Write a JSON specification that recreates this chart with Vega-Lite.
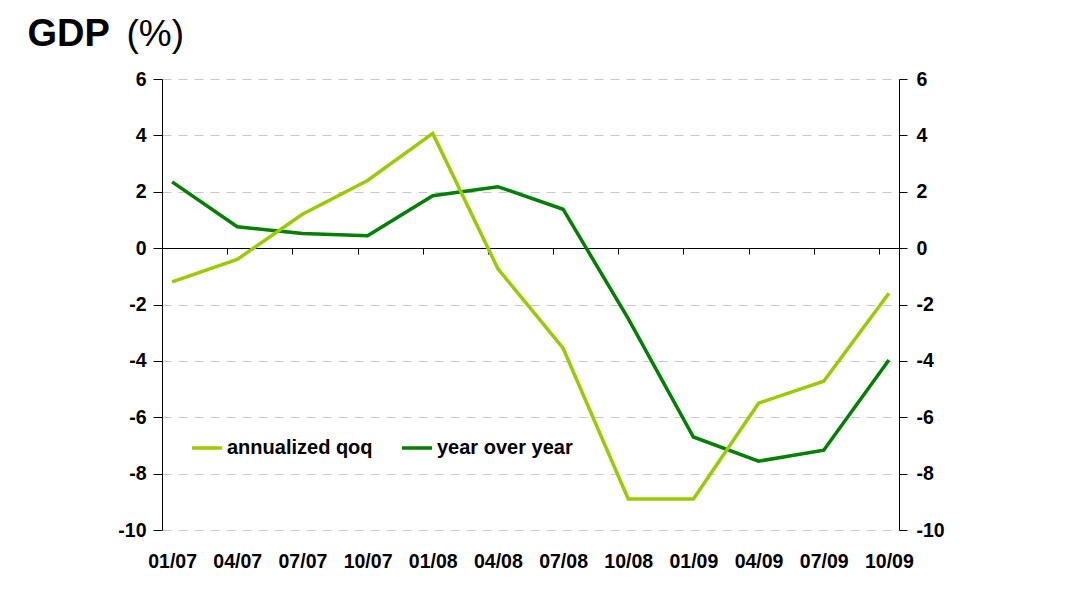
{
  "$schema": "https://vega.github.io/schema/vega-lite/v6.json",
  "width": 737,
  "height": 451,
  "autosize": "none",
  "padding": {"left": 162, "top": 79, "right": 175, "bottom": 67},
  "background": "white",
  "config": {"view": {"stroke": null}, "font": "Liberation Sans"},
  "data": {"values": [
    {"date": "01/07", "series": "year over year", "value": 2.35},
    {"date": "04/07", "series": "year over year", "value": 0.76},
    {"date": "07/07", "series": "year over year", "value": 0.52},
    {"date": "10/07", "series": "year over year", "value": 0.44},
    {"date": "01/08", "series": "year over year", "value": 1.86},
    {"date": "04/08", "series": "year over year", "value": 2.18},
    {"date": "07/08", "series": "year over year", "value": 1.38},
    {"date": "10/08", "series": "year over year", "value": -2.5},
    {"date": "01/09", "series": "year over year", "value": -6.7},
    {"date": "04/09", "series": "year over year", "value": -7.56},
    {"date": "07/09", "series": "year over year", "value": -7.17},
    {"date": "10/09", "series": "year over year", "value": -3.97},
    {"date": "01/07", "series": "annualized qoq", "value": -1.2},
    {"date": "04/07", "series": "annualized qoq", "value": -0.4},
    {"date": "07/07", "series": "annualized qoq", "value": 1.2},
    {"date": "10/07", "series": "annualized qoq", "value": 2.4},
    {"date": "01/08", "series": "annualized qoq", "value": 4.07},
    {"date": "04/08", "series": "annualized qoq", "value": -0.73},
    {"date": "07/08", "series": "annualized qoq", "value": -3.55},
    {"date": "10/08", "series": "annualized qoq", "value": -8.9},
    {"date": "01/09", "series": "annualized qoq", "value": -8.9},
    {"date": "04/09", "series": "annualized qoq", "value": -5.5},
    {"date": "07/09", "series": "annualized qoq", "value": -4.72},
    {"date": "10/09", "series": "annualized qoq", "value": -1.6}
  ]},
  "layer": [
    {
      "mark": {"type": "line", "strokeWidth": 3.5},
      "encoding": {
        "x": {"field": "date", "type": "ordinal", "sort": null,
          "scale": {"type": "point", "padding": 0.155},
          "axis": {"title": null, "orient": "bottom", "offset": -282, "domainColor": "black", "tickColor": "black", "tickSize": 6, "tickOffset": -10, "labelOffset": 10, "labelPadding": 307, "labelBaseline": "middle", "labelAngle": 0, "labelFont": "Liberation Sans", "labelFontSize": 19.5, "labelFontWeight": "bold", "labelColor": "black", "grid": false}},
        "y": {"field": "value", "type": "quantitative",
          "scale": {"domain": [-10, 6], "nice": false, "zero": false},
          "axis": {"orient": "left", "values": [-10, -8, -6, -4, -2, 0, 2, 4, 6], "labelExpr": "'' + datum.value", "title": "GDP", "titleAngle": 0, "titleX": -135, "titleY": -34, "titleAlign": "left", "titleBaseline": "alphabetic", "titleFont": "Liberation Sans", "titleFontSize": 38, "titleFontWeight": "bold", "titleColor": "black", "domainColor": "black", "tickColor": "black", "tickSize": 9, "labelPadding": 7, "labelFont": "Liberation Sans", "labelFontSize": 19.5, "labelFontWeight": "bold", "labelColor": "black", "grid": true, "gridColor": "#c8c8c8", "gridDash": [9, 7]}},
        "color": {"field": "series", "type": "nominal",
          "scale": {"domain": ["annualized qoq", "year over year"], "range": ["#99cc00", "#008000"]},
          "legend": {"orient": "none", "legendX": 28, "legendY": 352, "direction": "horizontal", "title": null, "symbolType": "stroke", "symbolStrokeWidth": 3.5, "symbolSize": 900, "labelFont": "Liberation Sans", "labelFontSize": 20, "labelFontWeight": "bold", "labelColor": "black", "columnPadding": 22, "labelOffset": 3}}
      }
    },
    {
      "mark": {"type": "point", "opacity": 0},
      "encoding": {
        "y": {"field": "value", "type": "quantitative",
          "scale": {"domain": [-10, 6], "nice": false, "zero": false},
          "axis": {"orient": "right", "values": [-10, -8, -6, -4, -2, 0, 2, 4, 6], "labelExpr": "'' + datum.value", "title": "(%)", "titleAngle": 0, "titleX": -773, "titleY": -34, "titleAlign": "left", "titleBaseline": "alphabetic", "titleFont": "Liberation Sans", "titleFontSize": 37, "titleFontWeight": "normal", "titleColor": "black", "domainColor": "black", "tickColor": "black", "tickSize": 8, "labelPadding": 9, "labelFont": "Liberation Sans", "labelFontSize": 19.5, "labelFontWeight": "bold", "labelColor": "black", "grid": false}}
      }
    }
  ],
  "resolve": {"axis": {"y": "independent"}}
}
